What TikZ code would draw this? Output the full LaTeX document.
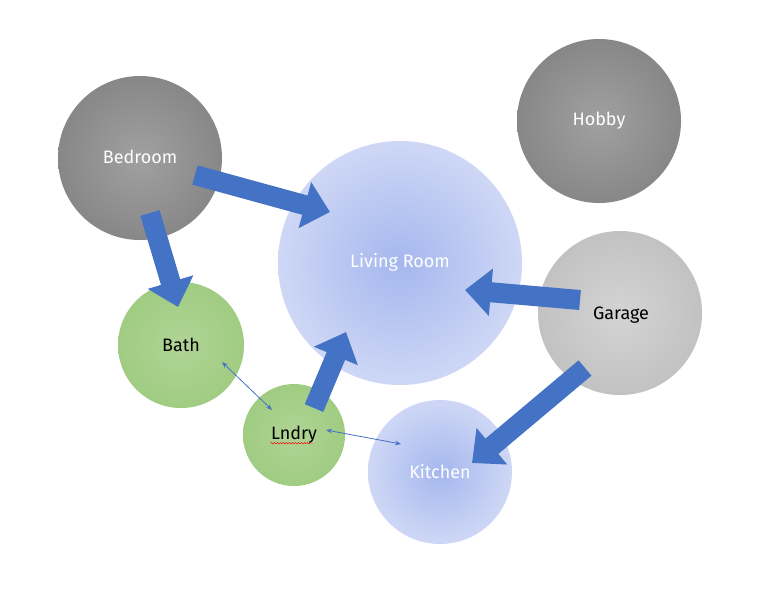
\documentclass[tikz,border=0pt]{standalone}
\usepackage{fontspec}
\setmainfont{Fira Sans}
\usetikzlibrary{arrows.meta,decorations.pathmorphing,calc}
\definecolor{ablue}{HTML}{4472C4}
\tikzset{
 room/.style={circle,inner sep=0pt,shading=radial},
 darkroom/.style={room,inner color=gray!74,outer color=gray!94,text=white},
 lightroom/.style={room,inner color=gray!34,outer color=gray!48,text=black},
 blueroom/.style={room,inner color={rgb,255:red,165;green,183;blue,238},outer color={rgb,255:red,206;green,215;blue,245},text=white},
 greenroom/.style={room,inner color={rgb,255:red,176;green,212;blue,150},outer color={rgb,255:red,160;green,204;blue,130},text=black},
 blockarrow/.style={ablue,line width=20pt,-{Triangle[length=26pt,width=46pt]}},
 thinarrow/.style={ablue,line width=0.8pt,{Stealth[length=6pt]}-{Stealth[length=6pt]}},
 lbl/.style={font=\fontsize{18}{22}\selectfont}
}
\begin{document}
\begin{tikzpicture}[x=1pt,y=-1pt]
\useasboundingbox[fill=white] (0,0) rectangle (775,598);
\node[darkroom,minimum size=164pt] (bed) at (140,158) {};
\node[lbl,white] (bedt) at (140,157) {Bedroom};
\node[darkroom,minimum size=164pt] (hob) at (599,121) {};
\node[lbl,white] (hobt) at (599,121) {Hobby};
\node[blueroom,minimum size=244pt] (liv) at (400,263) {};
\node[lbl,white] (livt) at (400,262) {Living Room};
\node[lightroom,minimum size=164pt] (gar) at (620,313) {};
\node[lbl] (gart) at (621,315) {Garage};
\node[greenroom,minimum size=126pt] (bath) at (181,345) {};
\node[lbl] (batht) at (181,345) {Bath};
\node[greenroom,minimum size=102pt] (lnd) at (294,435) {};
\node[lbl] (lndt) at (294,435) {Lndry};
\node[blueroom,minimum size=144pt] (kit) at (440,472) {};
\node[lbl,white] (kitt) at (440,472) {Kitchen};
\coordinate (u1) at ($(lndt.south west)+(3,-4)$);
\coordinate (u2) at ($(u1)+(42,0)$);
\draw[red,decorate,decoration={snake,amplitude=0.8pt,segment length=3pt}] (u1) -- (u2);
\coordinate (a1s) at (195,175); \coordinate (a1e) at (330,212);
\coordinate (a2s) at (150,213); \coordinate (a2e) at (178,307);
\coordinate (a3s) at (580,300); \coordinate (a3e) at (465,290);
\coordinate (a4s) at (585,368); \coordinate (a4e) at (472,463);
\coordinate (a5s) at (314,408); \coordinate (a5e) at (346,332);
\draw[blockarrow] (a1s) -- (a1e);
\draw[blockarrow] (a2s) -- (a2e);
\draw[blockarrow] (a3s) -- (a3e);
\draw[blockarrow] (a4s) -- (a4e);
\draw[blockarrow] (a5s) -- (a5e);
\coordinate (t1s) at (222,362); \coordinate (t1e) at (272,410);
\coordinate (t2s) at (326,430); \coordinate (t2e) at (401,444);
\draw[thinarrow] (t1s) -- (t1e);
\draw[thinarrow] (t2s) -- (t2e);
\end{tikzpicture}
\end{document}
